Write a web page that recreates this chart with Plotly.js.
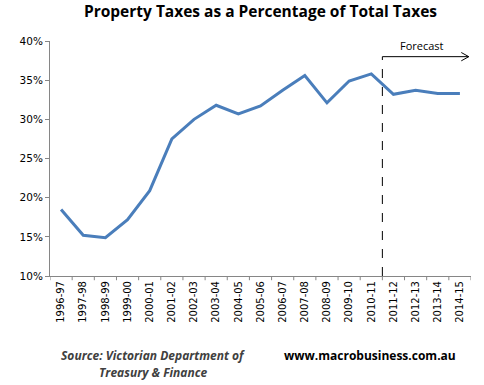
<!DOCTYPE html>
<html>
<head>
<meta charset="utf-8">
<script src="https://cdn.plot.ly/plotly-3.0.1.min.js"></script>
<style>
html,body{margin:0;padding:0;background:#fff;}
#chart{width:484px;height:385px;}
</style>
</head>
<body>
<div id="chart"></div>
<script>
const years = ["1996-97","1997-98","1998-99","1999-00","2000-01","2001-02","2002-03","2003-04","2004-05","2005-06","2006-07","2007-08","2008-09","2009-10","2010-11","2011-12","2012-13","2013-14","2014-15"];
const propertyShare = [18.5,15.2,14.9,17.2,20.9,27.5,30.0,31.8,30.7,31.7,33.7,35.6,32.1,34.9,35.8,33.2,33.7,33.3,33.3];
const yTicks = [10,15,20,25,30,35,40];
const yTickText = ["10%","15%","20%","25%","30%","35%","40%"];
const forecastStart = 14.5; // boundary between 2010-11 and 2011-12
const forecastEnd = 18.4;
const forecastLevel = 38.0;

const trace = {
  x: years.map((_, i) => i),
  y: propertyShare,
  type: 'scatter',
  mode: 'lines',
  line: {color: '#4A7EBB', width: 3},
  hoverinfo: 'skip'
};

const layout = {
  width: 484, height: 385,
  margin: {l: 50, r: 13, t: 41, b: 109},
  paper_bgcolor: '#fff', plot_bgcolor: '#fff',
  showlegend: false,
  title: {
    text: '<b>Property Taxes as a Percentage of Total Taxes</b>',
    font: {family: 'Open Sans', size: 15.5, color: '#000'},
    x: 0.5, xanchor: 'center', y: 0.985, yanchor: 'top', xref: 'paper'
  },
  xaxis: {
    range: [-0.5, 18.5],
    tickmode: 'array',
    tickvals: years.map((_, i) => i),
    ticktext: years,
    tickangle: -90,
    tickfont: {family: 'DejaVu Sans', size: 10, color: '#000'},
    showgrid: false, zeroline: false,
    showline: true, linecolor: '#868686', linewidth: 1,
    ticks: '', fixedrange: true
  },
  yaxis: {
    range: [10, 40],
    tickmode: 'array',
    tickvals: yTicks,
    ticktext: yTickText,
    tickfont: {family: 'DejaVu Sans', size: 10.5, color: '#000'},
    showgrid: false, zeroline: false,
    showline: true, linecolor: '#868686', linewidth: 1,
    ticks: 'outside', ticklen: 4, tickcolor: '#868686',
    fixedrange: true
  },
  shapes: [
    ...Array.from({length: years.length + 1}, (_, i) => ({
      type: 'line', xref: 'x', yref: 'paper',
      x0: i - 0.5, x1: i - 0.5, y0: 0, y1: -0.018,
      line: {color: '#868686', width: 1}
    })),
    {
      type: 'line', xref: 'x', yref: 'y',
      x0: forecastStart, x1: forecastStart, y0: 10, y1: forecastLevel,
      line: {color: '#000', width: 1, dash: 'dash'}
    },
    {
      type: 'line', xref: 'x', yref: 'y',
      x0: forecastStart, x1: forecastEnd, y0: forecastLevel, y1: forecastLevel,
      line: {color: '#000', width: 1}
    }
  ],
  annotations: [
    {
      x: forecastEnd, y: forecastLevel, xref: 'x', yref: 'y',
      ax: -9, ay: -5, showarrow: true, arrowhead: 0, arrowwidth: 1, arrowcolor: '#000',
      standoff: 0, startstandoff: 0, text: ''
    },
    {
      x: forecastEnd, y: forecastLevel, xref: 'x', yref: 'y',
      ax: -9, ay: 5, showarrow: true, arrowhead: 0, arrowwidth: 1, arrowcolor: '#000',
      standoff: 0, startstandoff: 0, text: ''
    },
    {
      x: (forecastStart + forecastEnd) / 2 - 0.15, y: forecastLevel, xref: 'x', yref: 'y',
      yshift: 11, showarrow: false,
      text: 'Forecast',
      font: {family: 'Open Sans', size: 11, color: '#000'}
    },
    {
      x: 153, y: 355, xref: 'paper', yref: 'paper', showarrow: false,
      text: '<b><i>Source: Victorian Department of</i></b>',
      font: {family: 'Open Sans', size: 12, color: '#404040'}
    },
    {
      x: 153, y: 372, xref: 'paper', yref: 'paper', showarrow: false,
      text: '<b><i>Treasury &amp; Finance</i></b>',
      font: {family: 'Open Sans', size: 12, color: '#404040'}
    },
    {
      x: 370, y: 355, xref: 'paper', yref: 'paper', showarrow: false,
      text: '<b>www.macrobusiness.com.au</b>',
      font: {family: 'Open Sans', size: 12, color: '#000'}
    }
  ]
};

const plotW = 484 - layout.margin.l - layout.margin.r;
const plotH = 385 - layout.margin.t - layout.margin.b;
layout.annotations.forEach(a => {
  if (a.xref === 'paper') {
    a.x = (a.x - layout.margin.l) / plotW;
    a.y = (385 - layout.margin.b - a.y) / plotH;
    a.xanchor = 'center'; a.yanchor = 'middle';
  }
});

Plotly.newPlot('chart', [trace], layout, {displayModeBar: false, staticPlot: true});
</script>
</body>
</html>
